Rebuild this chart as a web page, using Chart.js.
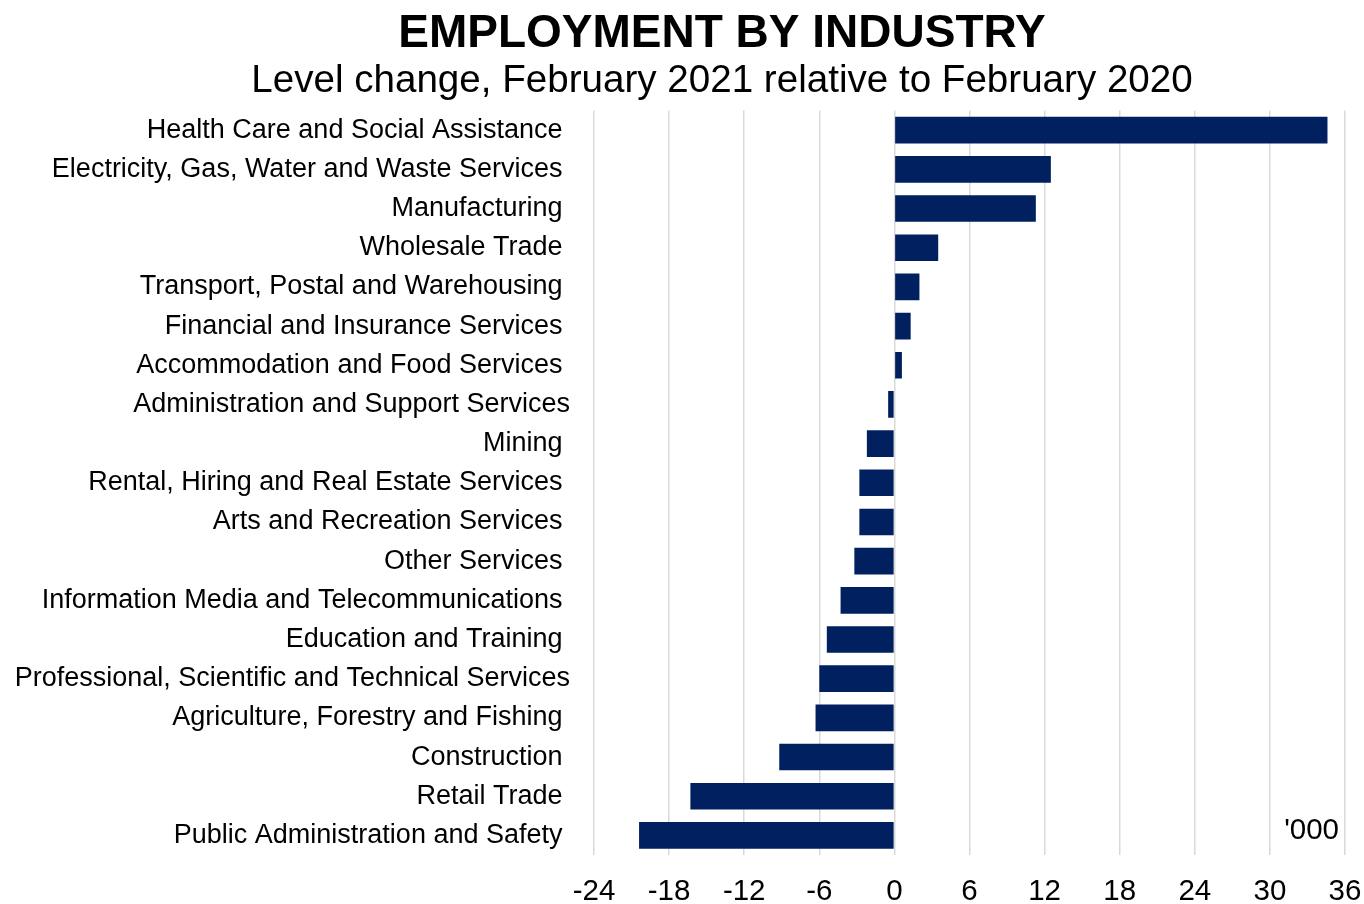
<!DOCTYPE html>
<html>
<head>
<meta charset="utf-8">
<title>Employment by industry</title>
<script src="https://cdn.jsdelivr.net/npm/chart.js@4/dist/chart.umd.min.js"></script>
<style>
  html, body { margin: 0; padding: 0; background: #ffffff; }
  canvas { display: block; }
</style>
</head>
<body>
<canvas id="chartCanvas" width="1364" height="904"></canvas>
<script>
// Trailing spaces on most labels: those industry names carry one in the source sheet
const industries = [
  "Health Care and Social Assistance ",
  "Electricity, Gas, Water and Waste Services ",
  "Manufacturing ",
  "Wholesale Trade ",
  "Transport, Postal and Warehousing ",
  "Financial and Insurance Services ",
  "Accommodation and Food Services ",
  "Administration and Support Services",
  "Mining ",
  "Rental, Hiring and Real Estate Services ",
  "Arts and Recreation Services ",
  "Other Services ",
  "Information Media and Telecommunications ",
  "Education and Training ",
  "Professional, Scientific and Technical Services",
  "Agriculture, Forestry and Fishing ",
  "Construction ",
  "Retail Trade ",
  "Public Administration and Safety ",
];

// change in employed persons, '000
const levelChange = [
  34.6, 12.5, 11.3, 3.5, 2.0, 1.3, 0.6, -0.5, -2.2, -2.8,
  -2.8, -3.2, -4.3, -5.4, -6.0, -6.3, -9.2, -16.3, -20.4,
];

const axisMin = -24;
const axisMax = 36;
const axisStep = 6;

const titleText = "EMPLOYMENT BY INDUSTRY";
const subtitleText = "Level change, February 2021 relative to February 2020";
const unitLabel = "'000";

const FONT = "'Liberation Sans', Arial, sans-serif";
const NAVY = "#002060";

// Titles sit centred over the whole figure, not the plot, so draw them by hand
const headingPlugin = {
  id: "heading",
  afterDraw(chart) {
    const { ctx, chartArea } = chart;
    ctx.save();
    ctx.fillStyle = "#000000";
    ctx.textAlign = "center";
    ctx.textBaseline = "alphabetic";
    ctx.font = "bold 46px " + FONT;
    ctx.fillText(titleText, 722, 46.5);
    ctx.font = "38.6px " + FONT;
    ctx.fillText(subtitleText, 722, 91.8);

    ctx.font = "29.5px " + FONT;
    ctx.textAlign = "right";
    ctx.fillText(unitLabel, chartArea.right - 6, chartArea.bottom - 16);
    ctx.restore();
  },
};

const chartContext = document.getElementById("chartCanvas");

let chart = new Chart(chartContext, {
  type: "bar",
  data: {
    labels: industries,
    datasets: [
      {
        data: levelChange,
        backgroundColor: NAVY,
        borderWidth: 0,
        categoryPercentage: 1,
        barPercentage: 0.68,
      },
    ],
  },
  plugins: [headingPlugin],
  options: {
    indexAxis: "y",
    responsive: false,
    animation: false,
    layout: {
      padding: { top: 110.6, right: 19, bottom: 0, left: 0 },
    },
    plugins: {
      legend: { display: false },
      tooltip: { enabled: false },
      title: { display: false },
    },
    scales: {
      x: {
        min: axisMin,
        max: axisMax,
        afterFit(scale) {
          scale.height = 49;
          scale.paddingLeft = 0;
          scale.paddingRight = 0;
        },
        ticks: {
          stepSize: axisStep,
          color: "#000000",
          padding: 22,
          maxRotation: 0,
          font: { family: FONT, size: 29.5, lineHeight: 1 },
        },
        grid: {
          color: "#d9d9d9",
          lineWidth: 1.5,
          drawTicks: false,
        },
        border: { display: false },
      },
      y: {
        afterFit(scale) {
          scale.width = 594;
        },
        ticks: {
          color: "#000000",
          padding: 24,
          autoSkip: false,
          font: { family: FONT, size: 27 },
        },
        grid: { display: false, drawTicks: false },
        border: { display: false },
      },
    },
  },
});
</script>
</body>
</html>
